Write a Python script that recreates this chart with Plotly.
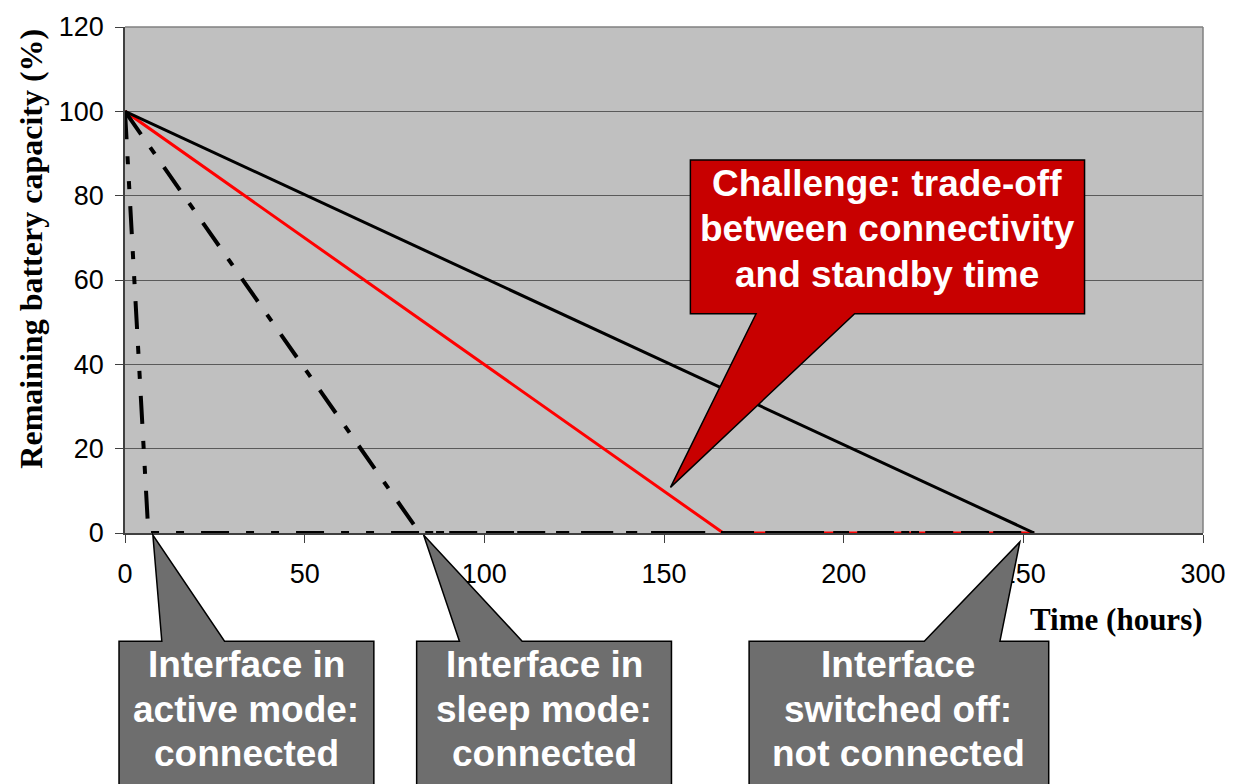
import plotly.graph_objects as go

# ---------------- data ----------------
hours_switched_off = [0, 253]
capacity_switched_off = [100, 0]

hours_target = [0, 166.5, 253]
capacity_target = [100, 0, 0]

hours_sleep = [0, 82, 253]
capacity_sleep = [100, 0, 0]

hours_active = [0, 6.5, 253]
capacity_active = [100, 0, 0]

x_ticks = [0, 50, 100, 150, 200, 250, 300]
y_ticks = [0, 20, 40, 60, 80, 100, 120]

callout_red_lines = ["Challenge: trade-off", "between connectivity", "and standby time"]
callout_active_lines = ["Interface in", "active mode:", "connected"]
callout_sleep_lines = ["Interface in", "sleep mode:", "connected"]
callout_off_lines = ["Interface", "switched off:", "not connected"]

# ---------------- layout geometry (pixels) ----------------
W, H = 1238, 784
L, R, T, B = 125, 30, 23, 251
PW, PH = W - L - R, H - T - B


def px(x):
    return (x - L) / PW


def py(y):
    return (H - B - y) / PH


def path(points):
    return "M " + " L ".join(f"{px(a):.5f},{py(b):.5f}" for a, b in points) + " Z"


fig = go.Figure()

fig.add_trace(go.Scatter(x=hours_target, y=capacity_target, mode="lines",
                         line=dict(color="#FF0000", width=3),
                         name="Trade-off"))
fig.add_trace(go.Scatter(x=hours_switched_off, y=capacity_switched_off, mode="lines",
                         line=dict(color="black", width=3),
                         name="Switched off"))
fig.add_trace(go.Scatter(x=hours_sleep, y=capacity_sleep, mode="lines",
                         line=dict(color="black", width=4, dash="28px,16px,8px,16px"),
                         name="Sleep mode"))
fig.add_trace(go.Scatter(x=hours_active, y=capacity_active, mode="lines",
                         line=dict(color="black", width=4, dash="28px,17px,8px,17px,8px,17px"),
                         name="Active mode"))

shapes = []
# plot border top/right
shapes.append(dict(type="line", xref="paper", yref="paper", x0=0, x1=1, y0=1, y1=1,
                   line=dict(color="#808080", width=1.5)))
shapes.append(dict(type="line", xref="paper", yref="paper", x0=1, x1=1, y0=0, y1=1,
                   line=dict(color="#808080", width=1.5)))

red_poly = [(693, 157), (1089, 157), (1089, 312), (858, 312), (673, 487), (759, 312), (693, 312)]
active_poly = [(119, 642), (162, 642), (153, 535), (225, 642), (375, 642), (375, 800), (119, 800)]
sleep_poly = [(418, 642), (461, 642), (425, 535), (524, 642), (674, 642), (674, 800), (418, 800)]
off_poly = [(752, 642), (928, 642), (1024, 542), (1004, 642), (1053, 642), (1053, 800), (752, 800)]

shapes.append(dict(type="path", xref="paper", yref="paper", path=path(red_poly),
                   fillcolor="#C80000", line=dict(color="black", width=1.5), layer="above"))
for poly in (active_poly, sleep_poly, off_poly):
    shapes.append(dict(type="path", xref="paper", yref="paper", path=path(poly),
                       fillcolor="#6E6E6E", line=dict(color="black", width=1.5), layer="above"))

box_font = dict(family="Liberation Sans, Arial", size=37, color="white")
annotations = []


def add_block(lines, cx, centers):
    for txt, cy in zip(lines, centers):
        annotations.append(dict(xref="paper", yref="paper", x=px(cx), y=py(cy),
                                text=f"<b>{txt}</b>", showarrow=False, font=box_font,
                                xanchor="center", yanchor="middle", align="center"))


add_block(callout_red_lines, 891, [181, 226.5, 272])
gray_centers = [666, 711, 755.5]
add_block(callout_active_lines, 247, gray_centers)
add_block(callout_sleep_lines, 546, gray_centers)
add_block(callout_off_lines, 902, gray_centers)

annotations += [
    dict(xref="paper", yref="paper", x=1.002, y=py(620), text="<b>Time (hours)</b>",
         showarrow=False, font=dict(family="Liberation Serif, Times New Roman", size=31, color="black"),
         xanchor="right", yanchor="middle"),
    dict(xref="paper", yref="paper", x=px(31), y=py(246), text="<b>Remaining battery capacity (%)</b>",
         showarrow=False, textangle=-90,
         font=dict(family="Liberation Serif, Times New Roman", size=32, color="black"),
         xanchor="center", yanchor="middle"),
]

fig.update_layout(
    width=W, height=H,
    margin=dict(l=L, r=R, t=T, b=B, pad=0),
    paper_bgcolor="white",
    plot_bgcolor="#C0C0C0",
    showlegend=False,
    shapes=shapes,
    annotations=annotations,
    font=dict(family="Liberation Sans, Arial", size=27, color="black"),
)

fig.update_xaxes(range=[0, 300], tickvals=x_ticks, ticktext=[str(v) for v in x_ticks],
                 showgrid=False, zeroline=False, showline=True, linecolor="#404040", linewidth=1.5,
                 ticks="outside", ticklen=8, tickcolor="#404040", tickwidth=1,
                 ticklabelstandoff=8, layer="below traces",
                 tickfont=dict(family="Liberation Sans, Arial", size=27, color="black"))
fig.update_yaxes(range=[0, 120], tickvals=y_ticks, ticktext=[str(v) for v in y_ticks],
                 showgrid=True, gridcolor="#5A5A5A", gridwidth=1, zeroline=False,
                 showline=True, linecolor="#404040", linewidth=1.5,
                 ticks="outside", ticklen=8, tickcolor="#404040", tickwidth=1,
                 ticklabelstandoff=6, layer="below traces",
                 tickfont=dict(family="Liberation Sans, Arial", size=27, color="black"))

fig.write_html("out.html", config={"displayModeBar": False},
               post_script="document.body.style.margin='0';document.body.style.overflow='hidden';")
